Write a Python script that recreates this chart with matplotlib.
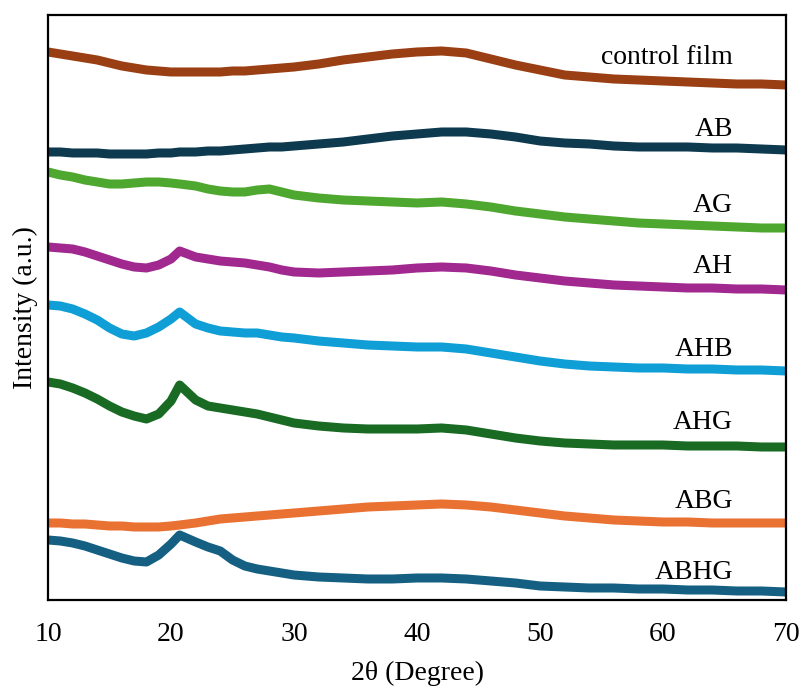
# XRD patterns of the films, stacked with vertical offsets
import numpy as np
import matplotlib
matplotlib.use("Agg")
import matplotlib.pyplot as plt

plt.rcParams.update({
    "font.family": ["Liberation Serif", "DejaVu Serif"],
    "font.size": 20,
})

# 2theta grid (degree)
two_theta = list(range(10, 21)) + [20.7] + list(range(22, 31)) + list(range(32, 71, 2))

# intensities (a.u., already offset for stacking)
control_film = [548, 546, 544, 542, 540, 537, 534, 532, 530, 529, 528, 528, 528, 528, 528, 529, 529, 530, 531, 532, 533,
                536, 540, 543, 546, 548, 549, 547, 541, 535, 530, 525, 523, 521, 520, 519, 518, 517, 516, 516, 515]
AB = [448, 448, 447, 447, 447, 446, 446, 446, 446, 447, 447, 448, 448, 449, 449, 450, 451, 452, 453, 453, 454,
      456, 458, 461, 464, 466, 468, 468, 466, 463, 459, 457, 456, 454, 453, 453, 453, 452, 452, 451, 450]
AG = [428, 425, 423, 420, 418, 416, 416, 417, 418, 418, 417, 416, 414, 411, 409, 408, 408, 410, 411, 408, 405,
      402, 400, 399, 398, 397, 398, 396, 393, 389, 386, 383, 381, 379, 377, 376, 375, 374, 373, 372, 372]
AH = [353, 352, 351, 348, 344, 340, 336, 333, 332, 335, 341, 349, 343, 341, 339, 338, 337, 335, 333, 330, 328,
      327, 328, 329, 330, 332, 333, 332, 329, 325, 322, 319, 317, 315, 314, 313, 312, 312, 311, 311, 310]
AHB = [295, 294, 291, 286, 280, 272, 266, 264, 267, 273, 281, 288, 276, 272, 269, 268, 267, 267, 265, 263, 262,
       259, 257, 255, 254, 253, 253, 251, 247, 243, 239, 236, 234, 233, 232, 232, 231, 231, 230, 230, 229]
AHG = [218, 216, 212, 207, 201, 194, 188, 184, 181, 186, 199, 215, 200, 194, 192, 190, 188, 186, 183, 180, 177,
       174, 172, 171, 171, 171, 172, 170, 166, 162, 159, 157, 156, 155, 155, 155, 154, 154, 154, 153, 153]
ABG = [77, 77, 76, 76, 75, 74, 74, 73, 73, 73, 74, 75, 77, 79, 81, 82, 83, 84, 85, 86, 87,
       89, 91, 93, 94, 95, 96, 95, 93, 90, 87, 84, 82, 80, 79, 78, 78, 77, 77, 77, 77]
ABHG = [60, 59, 57, 54, 50, 46, 42, 39, 38, 45, 56, 65, 58, 53, 49, 40, 34, 31, 29, 27, 25,
        23, 22, 21, 21, 22, 22, 21, 19, 17, 14, 13, 12, 12, 11, 11, 10, 10, 9, 9, 8]

names = ["control film", "AB", "AG", "AH", "AHB", "AHG", "ABG", "ABHG"]
series = [control_film, AB, AG, AH, AHB, AHG, ABG, ABHG]
colors = ["#9A3F14", "#0E3A4F", "#4EA72E", "#A0288F", "#0F9ED5", "#196B24", "#E97132", "#156082"]
label_y = [542, 470, 394, 333, 250, 177, 98, 27]

fig = plt.figure(figsize=(8.02, 6.91), dpi=100)
ax = fig.add_axes([0.0599, 0.1317, 0.9202, 0.8466])

for name, y, c, ly in zip(names, series, colors, label_y):
    ax.plot(two_theta, y, color=c, lw=6.5, solid_joinstyle="round", solid_capstyle="butt")
    ax.text(65.7, ly, name, ha="right", va="center", fontsize=20)

ax.set_xlim(10, 70)
ax.set_ylim(0, 585)
ax.set_xticks(np.arange(10, 71, 10))
ax.set_yticks([])
ax.tick_params(axis="x", length=0, pad=16, labelsize=20)
for s in ax.spines.values():
    s.set_linewidth(1.6)
    s.set_zorder(3)

ax.set_xlabel("2θ (Degree)", labelpad=10)
ax.set_ylabel("Intensity (a.u.)", labelpad=7)

fig.savefig("out.png", dpi=100)
